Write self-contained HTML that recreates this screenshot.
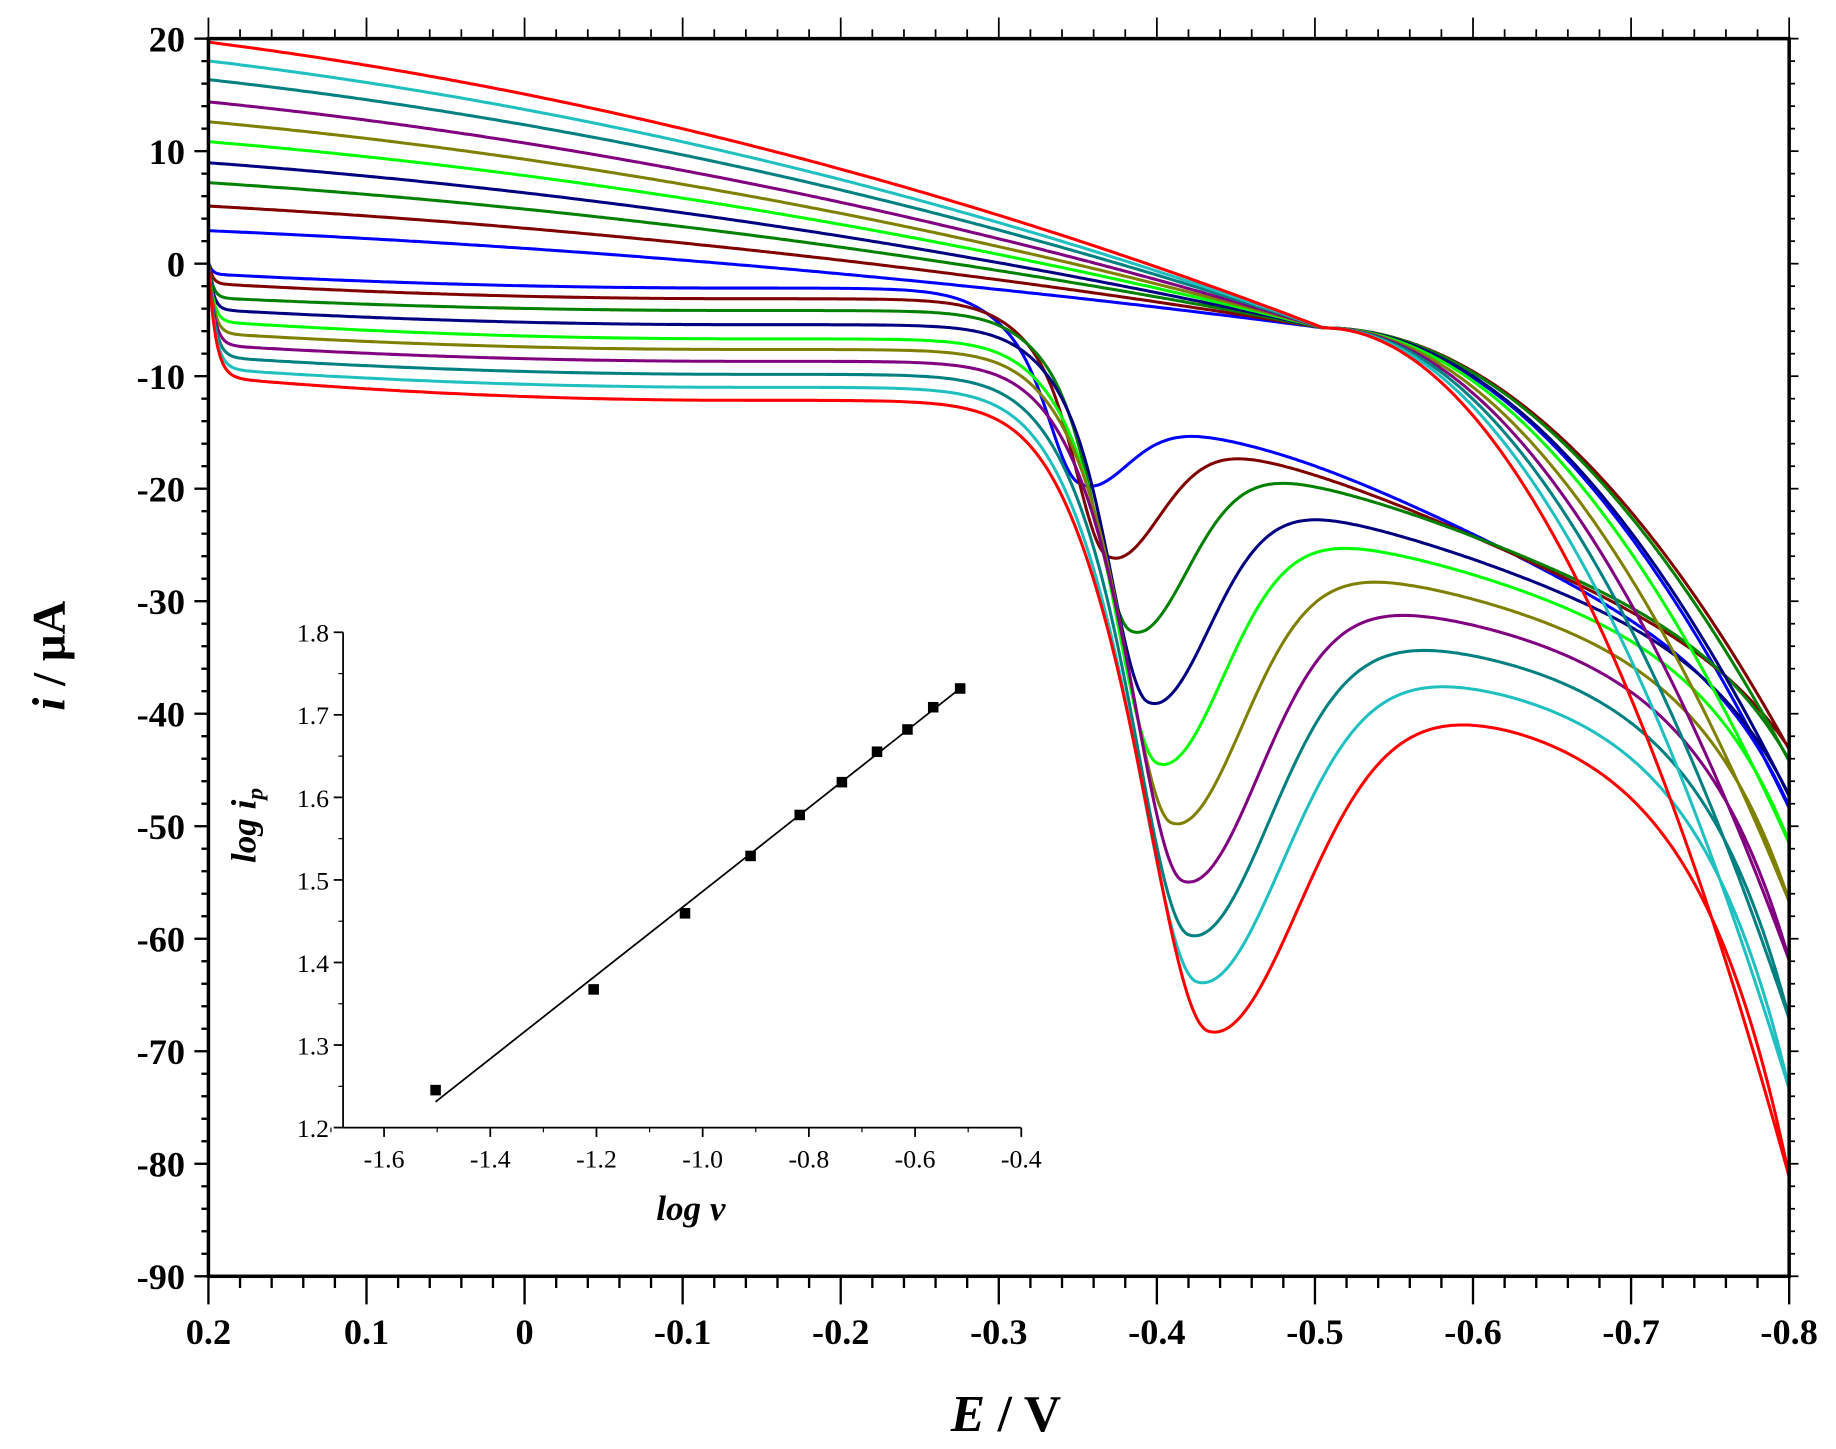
<!DOCTYPE html>
<html><head><meta charset="utf-8">
<style>html,body{margin:0;padding:0;background:#fff}svg{display:block}</style>
</head><body>
<svg id="s" width="1836" height="1449" viewBox="0 0 1568 1237.5" xmlns="http://www.w3.org/2000/svg">
<rect width="1568" height="1238" fill="#fff"/>
<g id="curves" fill="none" stroke-width="2.6" stroke-linejoin="round"></g>
<g id="axes" stroke="#000" fill="none"></g>
<g id="labels" font-family="'Liberation Serif',serif" font-weight="bold" fill="#000"></g>
</svg>
<script>
const NS="http://www.w3.org/2000/svg";
function el(p,t,a,txt){const e=document.createElementNS(NS,t);for(const k in a)e.setAttribute(k,a[k]);if(txt!==undefined)e.textContent=txt;document.getElementById(p).appendChild(e);return e;}
const L=178,R=1528,T=33,B=1090;
const X=e=>L+(0.2-e)*1350, Y=i=>T+(20-i)*9.609;
const sig=z=>1/(1+Math.exp(-z));
const sp=(z)=>z>30?z:Math.log(1+Math.exp(z));
const S=[
["#0000ff",197,235,247,920,410,1060,372,690],
["#800000",176,243,256,945,472,1065,385,640],
["#008000",156,255,266,965,537,1105,408,650],
["#000080",139,265,278,980,598,1115,437,680],
["#00ff00",121,275,290,988,651,1150,465,720],
["#808000",104,285,299,1000,702,1170,494,770],
["#800080",87,295,309,1010,752,1195,523,820],
["#008080",68,305,320,1015,798,1215,553,870],
["#20c0c0",52,315,331,1022,838,1225,582,930],
["#ff0000",36,322,342,1032,880,1245,611,1005]];
S.forEach((s,k)=>{
 const [c,y0,ls,yf,px,py,hx,hy0,ye]=s;
 const hy=hy0-12;
 const a=k/9;
 const D=hy-yf, xd=px-40-60*a, wd=25+5*a, pw=30+30*a, pwr=pw*1.8, m=0.4*(1-a)+0.08, we=60+20*a, mw=60;
 const P=py-(yf+D*sig((px-xd)/wd));
 const tl=x=>m*mw*sp((x-hx)/mw);
 const C=ye-hy-tl(1528);
 const pts=[];
 for(let x=178;x<=1528;x+=2){
  const u=Math.min(1,(x-178)/450);
  const base=ls+(yf-ls)*(1-(1-u)*(1-u))+(225-ls)*Math.exp(-(x-178)/(3+3*a));
  const w=x<px?pw:pwr;
  const y=base+D*sig((x-xd)/wd)+P*Math.exp(-Math.pow((x-px)/w,2))+tl(x)-tl(hx-200)+C*Math.exp((x-1528)/we);
  pts.push([x,y]);
 }
 for(let x=1528;x>=1130;x-=3){const t=(x-1130)/398;pts.push([x,280+(ye-280)*t*t]);}
 for(let x=1130;x>=178;x-=4){const t=(x-178)/952,f=0.5*t+0.5*t*t;pts.push([x,y0+(280-y0)*f]);}
 el("curves","polyline",{points:pts.map(p=>p[0]+","+p[1].toFixed(1)).join(" "),stroke:c});
});
el("axes","rect",{x:L,y:T,width:R-L,height:B-T,"stroke-width":3});
for(let v=-90;v<=20;v+=2){const y=Y(v),maj=v%10==0;
 el("axes","line",{x1:L,x2:L-(maj?12:6),y1:y,y2:y,"stroke-width":2});
 el("axes","line",{x1:R,x2:R+(maj?8:5),y1:y,y2:y,"stroke-width":1.5});
 if(maj)el("labels","text",{x:158,y:y+11,"font-size":31,"text-anchor":"end"},(v<0?"-":"")+Math.abs(v));}
for(let j=0;j<=50;j++){const e=0.2-j*0.02,x=X(e),maj=j%5==0;
 el("axes","line",{x1:x,x2:x,y1:B,y2:B+(maj?24:10),"stroke-width":2});
 el("axes","line",{x1:x,x2:x,y1:T,y2:T-(maj?18:8),"stroke-width":1.5});
 if(maj){const v=Math.round(e*10)/10;el("labels","text",{x:x,y:1148,"font-size":31,"text-anchor":"middle"},v==0?"0":(v<0?"-":"")+Math.abs(v));}}
el("labels","text",{x:812,y:1222,"font-size":44,"font-style":"italic"},"E");
el("labels","text",{x:852,y:1222,"font-size":44},"/ V");
const yt=el("labels","text",{transform:"translate(55,560) rotate(-90)","font-size":40,"text-anchor":"middle"});
yt.innerHTML='<tspan font-style="italic">i</tspan> / μA';
const iL=293,iR=872,iT=540,iB=963;
const IX=v=>328+(v+1.6)/0.2*90.7, IY=v=>963-(v-1.2)/0.1*70.5;
el("axes","line",{x1:iL,x2:iL,y1:iT,y2:iB,"stroke-width":1.5});
el("axes","line",{x1:iL,x2:iR,y1:iB,y2:iB,"stroke-width":1.5});
for(let j=0;j<=6;j++){const v=1.2+j*0.1,y=IY(v);el("axes","line",{x1:iL,x2:iL-8,y1:y,y2:y,"stroke-width":1.5});
 el("labels","text",{x:iL-12,y:y+8,"font-size":22,"text-anchor":"end","font-weight":"normal"},v.toFixed(1));
 if(j<6)el("axes","line",{x1:iL,x2:iL-4,y1:y-35.25,y2:y-35.25,"stroke-width":1});}
for(let j=0;j<=6;j++){const v=-1.6+j*0.2,x=IX(v);el("axes","line",{x1:x,x2:x,y1:iB,y2:iB+8,"stroke-width":1.5});
 el("labels","text",{x:x,y:iB+34,"font-size":22,"text-anchor":"middle","font-weight":"normal"},v.toFixed(1));
 el("axes","line",{x1:x-45.35,x2:x-45.35,y1:iB,y2:iB+4,"stroke-width":1});}
el("axes","line",{x1:372,y1:941,x2:820,y2:588,"stroke-width":1.5});
[[372,931],[507,845],[585,780],[641,731],[683,696],[719,668],[749,642],[775,623],[797,604],[820,588]].forEach(p=>el("labels","rect",{x:p[0]-4.5,y:p[1]-4.5,width:9,height:9}));
el("labels","text",{x:590,y:1042,"font-size":30,"text-anchor":"middle","font-style":"italic"},"log  v");
const it=el("labels","text",{transform:"translate(218,705) rotate(-90)","font-size":30,"text-anchor":"middle","font-style":"italic"});
it.innerHTML='log i<tspan font-size="20" dy="6">p</tspan>';
</script>
</body></html>
